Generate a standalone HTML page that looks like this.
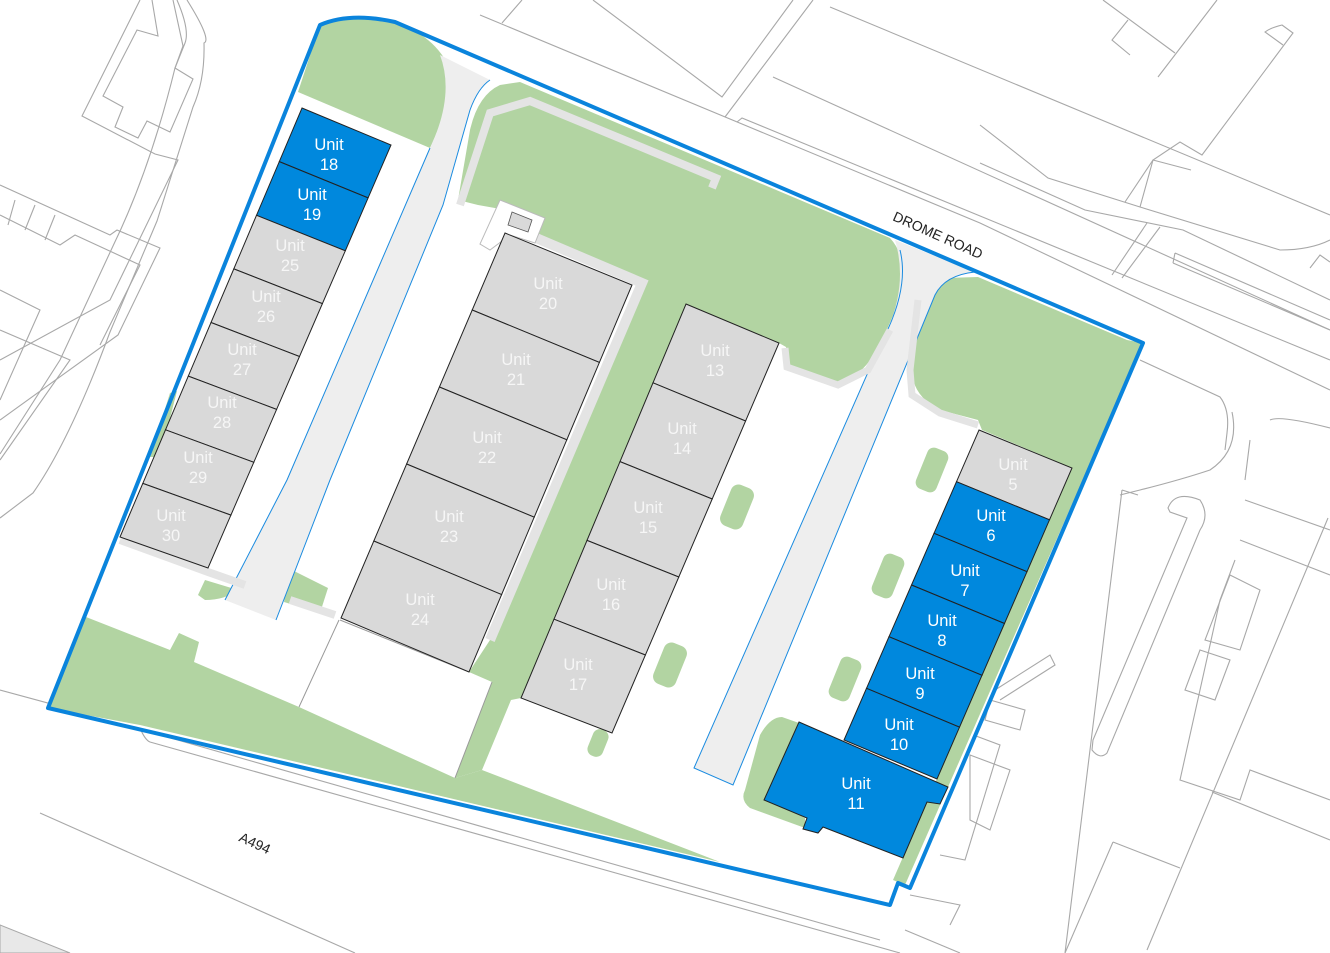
<!DOCTYPE html>
<html><head><meta charset="utf-8"><style>
html,body{margin:0;padding:0;background:#fff;}
svg{display:block;}
.l{fill:none;stroke:#a8a8a8;stroke-width:1.1;}
.u text{font-family:"Liberation Sans",sans-serif;font-size:16.5px;text-anchor:middle;}
</style></head><body>
<svg width="1330" height="953" viewBox="0 0 1330 953" xmlns="http://www.w3.org/2000/svg">
<g class="l">
<path d="M187,0 Q212,40 204,43 Q205,80 193,107 L157,221 L110,332 Q70,440 33,493 L0,518"/>
<path d="M177,0 Q190,30 185,43 L175,68 Q150,170 113,246 L60,360 L0,454"/>
<path d="M152,0 L158,36 L137,30 L103,96 L123,107 L115,127 L138,138 L147,121 L170,132 L193,79 L175,68 L183,46 L173,0"/>
<path d="M140,0 L82,116 L155,154 L178,160 L110,300 L0,360"/>
<path d="M0,185 L110,235 L117,230 L160,248 L118,335 L0,420"/>
<path d="M0,215 L60,245 L75,235 L140,265 L100,345"/>
<path d="M15,200 L8,225 M35,205 L25,230 M55,215 L45,240"/>
<path d="M0,290 L40,310 L0,400 M0,330 L70,360 L0,460"/>
<path d="M480,15 L980,223 L1330,390"/>
<path d="M502,23 L522,0 M593,0 L722,97 L793,0 M725,117 L813,0 M737,122 L742,118 L1330,360"/>
<path d="M773,77 L1330,330 M830,7 L1330,215"/>
<path d="M1103,0 L1175,53 M1217,0 L1158,77 M1128,20 L1112,40 L1130,55"/>
<path d="M980,125 L1048,178 L1140,207 L1280,250 Q1310,250 1330,240"/>
<path d="M980,163 L1085,210 L1183,230 L1330,300"/>
<path d="M1125,202 L1153,160 L1180,142 L1202,155 L1293,33 L1282,25 Q1270,28 1265,32 L1283,45"/>
<path d="M1140,207 L1153,160 L1191,170"/>
<path d="M1112,275 L1147,223 M1122,278 L1160,227"/>
<path d="M1175,253 L1330,320 M1173,263 L1330,330 M1175,253 L1173,263"/>
<path d="M1310,268 L1320,255 L1330,262"/>
<path d="M1140,360 L1220,397 Q1230,410 1227,433 L1225,450 M1232,412 Q1240,450 1210,470 Q1180,480 1140,490 L1120,495"/>
<path d="M1122,490 L1138,495 M1122,490 L1065,953 M1328,518 L1147,950"/>
<path d="M1168,508 Q1175,490 1200,500 Q1210,515 1200,530 L1107,753 Q1100,760 1092,750 L1093,740 L1187,518 L1170,512 Z"/>
<path d="M1270,420 Q1280,415 1330,428 M1245,500 L1330,530 M1250,440 L1245,480"/>
<path d="M1240,540 L1330,575 M1235,560 L1220,600 L1180,780 L1240,800 L1250,770 L1330,800"/>
<path d="M1230,575 L1260,590 L1240,650 L1205,640 Z M1200,650 L1230,660 L1215,700 L1185,690 Z"/>
<path d="M1212,792 L1330,840 M1113,842 L1180,868 M1113,842 L1065,953"/>
<path d="M995,690 L1050,655 L1055,665 L1000,700 M990,700 L1025,710 L1020,730 L985,720 Z M970,755 L1010,770 L990,830 L970,820 Z"/>
<path d="M960,730 L1000,745 L965,860 L940,855"/>
<path d="M0,690 L140,728 Q145,740 150,742 L900,953"/>
<path d="M160,735 L880,940"/>
<path d="M40,813 L355,953"/>
<path d="M910,895 L960,905 L950,925 M905,930 L960,953"/>
</g>
<polygon points="0,925 70,953 0,953" fill="#e8e8e8" stroke="#a8a8a8" stroke-width="1"/>

<path d="M320,25 Q350,12 395,22 L1143,343 L910,888 L898,883 L890,905 L48,708 Z" fill="#fff"/>
<g fill="#b2d4a2">
<path d="M320,25 Q350,12 395,22 Q440,38 452,75 Q452,100 430,148 L298,92 Z"/>
<path d="M458,200 L470,130 Q478,95 500,85 L520,82 L890,238 Q910,260 900,300 L880,345 Q860,380 838,383 L790,368 L786,347 L779,343 L686,304 L521,698 L511,700 L482,770 L455,778 L492,682 L469,672 L490,640 L640,282 L530,235 L535,215 L478,205 Z"/>
<path d="M86,617 L170,650 L179,633 L199,642 L194,662 L299,707 L455,778 L482,770 L720,862 L140,725 L48,708 Z"/>
<path d="M912,365 L920,300 Q930,280 945,278 L978,277 L1127,340 L1143,343 L1072,468 L982,430 L978,420 L940,410 Q910,395 912,365 Z"/>
<path d="M1072,468 L1127,345 L1141,347 L905,885 L893,880 Z"/>
<path d="M745,790 L760,735 Q770,717 782,717 L799,723 L765,797 L805,818 L805,828 L750,808 Q740,800 745,790 Z"/>
<path d="M198,595 L205,580 L238,590 Q225,600 205,600 Z"/>
<path d="M288,568 L328,588 L320,613 L284,602 Z"/>
<path d="M150,457 L170,393 L177,391 L160,457 Z"/>
</g>
<g fill="#b2d4a2">
<rect x="-11" y="-22" width="22" height="44" rx="7" transform="translate(932,470) rotate(22)"/>
<rect x="-11" y="-22" width="22" height="44" rx="7" transform="translate(888,576) rotate(22)"/>
<rect x="-11" y="-22" width="22" height="44" rx="7" transform="translate(845,679) rotate(22)"/>
<rect x="-12" y="-22" width="24" height="44" rx="8" transform="translate(737,507) rotate(22)"/>
<rect x="-12" y="-22" width="24" height="44" rx="8" transform="translate(670,665) rotate(22)"/>
<rect x="-8" y="-14" width="16" height="28" rx="7" transform="translate(598,743) rotate(22)"/>
<rect x="-10" y="-8" width="20" height="16" transform="translate(185,645) rotate(22)"/>
</g>
<path d="M440,55 L490,80 Q478,88 470,110 L443,205 L330,480 L276,620 L225,600 L287,480 L430,148 Q455,95 440,55 Z" fill="#eeeeee"/>
<path d="M490,80 Q478,88 470,110 L443,205 L330,480 L276,620" fill="none" stroke="#1a8be0" stroke-width="1"/>
<path d="M430,148 L287,480 L225,600" fill="none" stroke="#1a8be0" stroke-width="1"/>
<path d="M895,240 L975,272 Q945,275 935,295 L733,785 L694,768 L880,345 Q910,290 895,240 Z" fill="#eeeeee"/>
<path d="M975,272 Q945,275 935,295 L733,785 L694,768 L880,345 Q910,290 900,250" fill="none" stroke="#1a8be0" stroke-width="1"/>
<g fill="none" stroke="#e4e4e4">
<polyline points="460,205 490,113 530,101 716,178 712,188" stroke-width="8"/>
<polyline points="522,232 642,283 490,640" stroke-width="10"/>
<polyline points="785,348 787,367 838,385 868,370 890,330" stroke-width="7"/>
<polyline points="978,425 940,413 912,395 910,370 918,300" stroke-width="7"/>
<polyline points="120,540 208,572 245,585" stroke-width="8"/>
<polyline points="290,600 335,615" stroke-width="8"/>
</g>
<polygon points="500,200 545,218 535,243 510,235 490,250 480,244" fill="#fff" stroke="#bbb" stroke-width="1"/>
<polygon points="512,212 532,220 528,232 508,225" fill="#d9d9d9" stroke="#555" stroke-width="0.8"/>
<path d="M299,707 L339,620 M455,778 L492,682 M340,620 L469,672" stroke="#999" stroke-width="1" fill="none"/>

<g stroke="#222" stroke-width="1">
<polygon points="302,108 391,145 368.1,197.9 279.3,161.6" fill="#0088dd"/>
<polygon points="279.3,161.6 368.1,197.9 345.3,250.8 256.5,215.3" fill="#0088dd"/>
<polygon points="256.5,215.3 345.3,250.8 322.4,303.6 233.8,268.9" fill="#d9d9d9"/>
<polygon points="233.8,268.9 322.4,303.6 299.5,356.5 211,322.5" fill="#d9d9d9"/>
<polygon points="211,322.5 299.5,356.5 276.6,409.4 188.3,376.1" fill="#d9d9d9"/>
<polygon points="188.3,376.1 276.6,409.4 253.8,462.3 165.5,429.8" fill="#d9d9d9"/>
<polygon points="165.5,429.8 253.8,462.3 230.9,515.1 142.8,483.4" fill="#d9d9d9"/>
<polygon points="142.8,483.4 230.9,515.1 208,568 120,537" fill="#d9d9d9"/>
<polygon points="505,233 632,285 599.4,362.4 472.2,310" fill="#d9d9d9"/>
<polygon points="472.2,310 599.4,362.4 566.8,439.8 439.4,387" fill="#d9d9d9"/>
<polygon points="439.4,387 566.8,439.8 534.2,517.2 406.6,464" fill="#d9d9d9"/>
<polygon points="406.6,464 534.2,517.2 501.6,594.6 373.8,541" fill="#d9d9d9"/>
<polygon points="373.8,541 501.6,594.6 469,672 341,618" fill="#d9d9d9"/>
<polygon points="686,304 779,343 745.6,421 653,382.8" fill="#d9d9d9"/>
<polygon points="653,382.8 745.6,421 712.2,499 620,461.6" fill="#d9d9d9"/>
<polygon points="620,461.6 712.2,499 678.8,577 587,540.4" fill="#d9d9d9"/>
<polygon points="587,540.4 678.8,577 645.4,655 554,619.2" fill="#d9d9d9"/>
<polygon points="554,619.2 645.4,655 612,733 521,698" fill="#d9d9d9"/>
<polygon points="979,430 1072,468 1049.5,519.8 956.5,481.7" fill="#d9d9d9"/>
<polygon points="956.5,481.7 1049.5,519.8 1027,571.7 934,533.3" fill="#0088dd"/>
<polygon points="934,533.3 1027,571.7 1004.5,623.5 911.5,585" fill="#0088dd"/>
<polygon points="911.5,585 1004.5,623.5 982,675.3 889,636.7" fill="#0088dd"/>
<polygon points="889,636.7 982,675.3 959.5,727.2 866.5,688.3" fill="#0088dd"/>
<polygon points="866.5,688.3 959.5,727.2 937,779 844,740" fill="#0088dd"/>
<polygon points="799,722 948,787 940,804 927,802 903,858 823,827 818,833 803,829 807,818 764,800" fill="#0088dd"/>
</g>

<path d="M320,25 Q350,12 395,22 L1143,343 L910,888 L898,883 L890,905 L48,708 Z" fill="none" stroke="#0a84dc" stroke-width="4" stroke-linejoin="round"/>

<g class="u">
<g fill="#fff">
<text x="329" y="150">Unit<tspan x="329" y="170">18</tspan></text>
<text x="312" y="200">Unit<tspan x="312" y="220">19</tspan></text>
<text x="991" y="521">Unit<tspan x="991" y="541">6</tspan></text>
<text x="965" y="576">Unit<tspan x="965" y="596">7</tspan></text>
<text x="942" y="626">Unit<tspan x="942" y="646">8</tspan></text>
<text x="920" y="679">Unit<tspan x="920" y="699">9</tspan></text>
<text x="899" y="730">Unit<tspan x="899" y="750">10</tspan></text>
<text x="856" y="789">Unit<tspan x="856" y="809">11</tspan></text>
</g>
<g fill="#f6f6f6">
<text x="290" y="251">Unit<tspan x="290" y="271">25</tspan></text>
<text x="266" y="302">Unit<tspan x="266" y="322">26</tspan></text>
<text x="242" y="355">Unit<tspan x="242" y="375">27</tspan></text>
<text x="222" y="408">Unit<tspan x="222" y="428">28</tspan></text>
<text x="198" y="463">Unit<tspan x="198" y="483">29</tspan></text>
<text x="171" y="521">Unit<tspan x="171" y="541">30</tspan></text>
<text x="548" y="289">Unit<tspan x="548" y="309">20</tspan></text>
<text x="516" y="365">Unit<tspan x="516" y="385">21</tspan></text>
<text x="487" y="443">Unit<tspan x="487" y="463">22</tspan></text>
<text x="449" y="522">Unit<tspan x="449" y="542">23</tspan></text>
<text x="420" y="605">Unit<tspan x="420" y="625">24</tspan></text>
<text x="715" y="356">Unit<tspan x="715" y="376">13</tspan></text>
<text x="682" y="434">Unit<tspan x="682" y="454">14</tspan></text>
<text x="648" y="513">Unit<tspan x="648" y="533">15</tspan></text>
<text x="611" y="590">Unit<tspan x="611" y="610">16</tspan></text>
<text x="578" y="670">Unit<tspan x="578" y="690">17</tspan></text>
<text x="1013" y="470">Unit<tspan x="1013" y="490">5</tspan></text>
</g>
</g>
<text x="938" y="240" transform="rotate(24 938 235)" font-family="Liberation Sans,sans-serif" font-size="14" fill="#222" text-anchor="middle">DROME ROAD</text>
<text x="255" y="848" transform="rotate(25 255 843)" font-family="Liberation Sans,sans-serif" font-size="14" fill="#222" text-anchor="middle">A494</text>
</svg>
</body></html>
